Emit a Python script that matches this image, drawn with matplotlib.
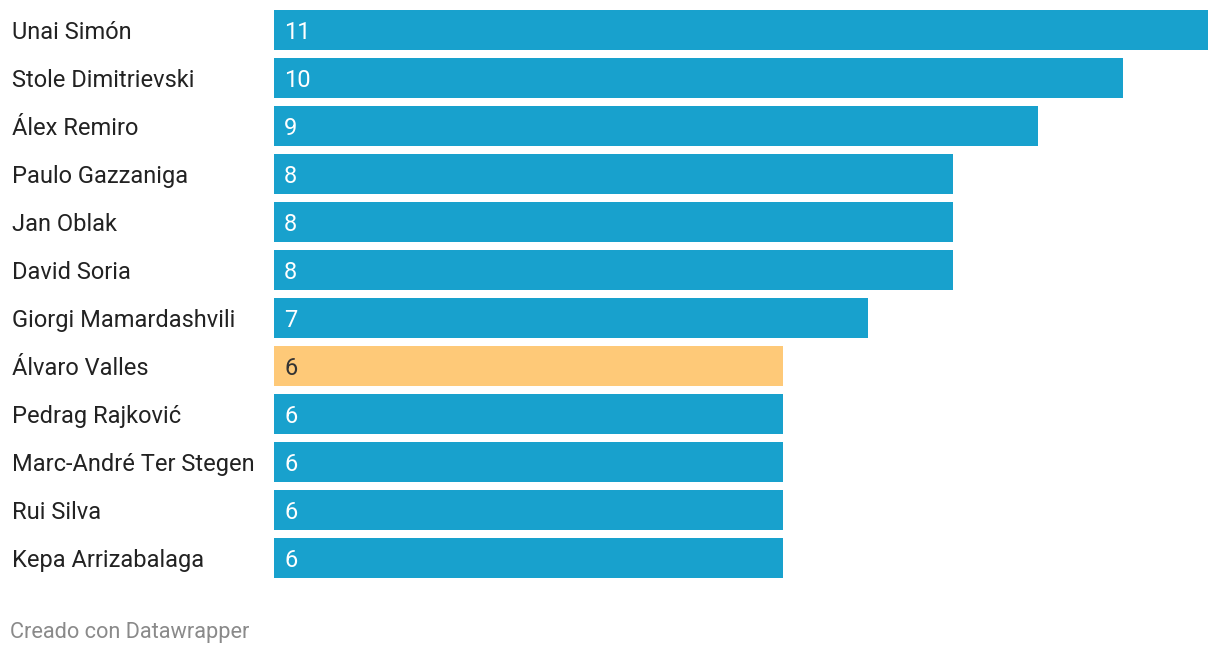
import matplotlib.pyplot as plt

players = [
    "Unai Simón",
    "Stole Dimitrievski",
    "Álex Remiro",
    "Paulo Gazzaniga",
    "Jan Oblak",
    "David Soria",
    "Giorgi Mamardashvili",
    "Álvaro Valles",
    "Pedrag Rajković",
    "Marc-André Ter Stegen",
    "Rui Silva",
    "Kepa Arrizabalaga",
]
values = [11, 10, 9, 8, 8, 8, 7, 6, 6, 6, 6, 6]
highlight = "Álvaro Valles"

BLUE = "#18a1cd"
ORANGE = "#fec978"

plt.rcParams["font.family"] = ["Roboto", "DejaVu Sans"]

fig = plt.figure(figsize=(12.2, 6.54), dpi=100)
W, H = 1220, 654
h = 40 / 48
ax = fig.add_axes([274 / W, 1 - 578 / H, (1208 - 274) / W, (578 - 10) / H])

colors = [ORANGE if p == highlight else BLUE for p in players]
ypos = list(range(len(players)))
bars = ax.barh(ypos, values, height=h, color=colors)

ax.set_xlim(0, max(values))
ax.set_ylim(len(players) - 1 + h / 2, -h / 2)
ax.axis("off")

unit = 934 / 11  # px per unit
for i, (p, v) in enumerate(zip(players, values)):
    ax.text(-262 / unit, i - 0.01, p, ha="left", va="center_baseline",
            fontsize=17, color="#222222")
    ax.text(10 / unit, i - 0.01, str(v), ha="left", va="center_baseline",
            fontsize=17, color="#333333" if p == highlight else "white")

fig.text(10 / W, 1 - 630 / H, "Creado con Datawrapper", ha="left",
         va="center_baseline", fontsize=15.7, color="#8a8a8a")

fig.savefig("out.png", dpi=100)
